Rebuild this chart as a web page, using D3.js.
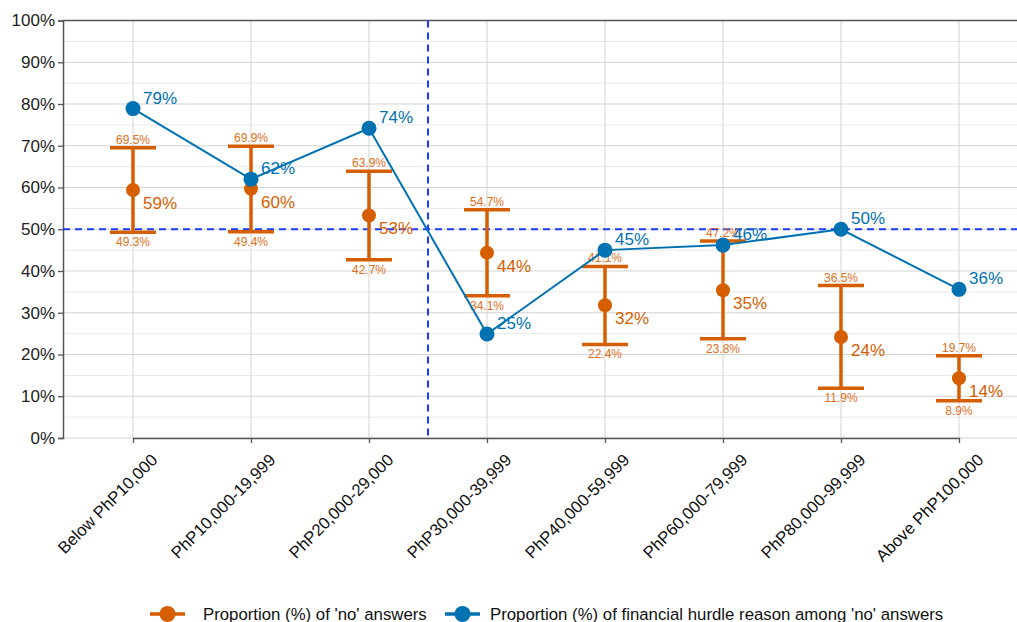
<!DOCTYPE html>
<meta charset="utf-8">
<script src="https://d3js.org/d3.v7.min.js"></script>
<style>
  body { margin: 0; background: #fff; }
  text { font-family: "Liberation Sans", Arial, sans-serif; }
</style>
<body>
<div id="chart"></div>
<script>
const categories = ["Below PhP10,000", "PhP10,000-19,999", "PhP20,000-29,000", "PhP30,000-39,999",
  "PhP40,000-59,999", "PhP60,000-79,999", "PhP80,000-99,999", "Above PhP100,000"];
const noShare = [59.4, 59.7, 53.3, 44.4, 31.8, 35.4, 24.2, 14.3];
const noLower = [49.3, 49.4, 42.7, 34.1, 22.4, 23.8, 11.9, 8.9];
const noUpper = [69.5, 69.9, 63.9, 54.7, 41.1, 47.2, 36.5, 19.7];
const finShare = [78.9, 62.0, 74.2, 24.9, 45.0, 46.2, 50.0, 35.6];
const yTicks = [0, 10, 20, 30, 40, 50, 60, 70, 80, 90, 100];
const legendLabels = ["Proportion (%) of 'no' answers", "Proportion (%) of financial hurdle reason among 'no' answers"];

const orange = "#D55E00", blue = "#0072B2", orangeText = "#E07020";

const W = 1017, H = 622;
const margin = {top: 20.5, right: 0, bottom: 184, left: 63};
const width = W - margin.left - margin.right, height = H - margin.top - margin.bottom;

const svg = d3.select("#chart").append("svg")
    .attr("width", W).attr("height", H);
const g = svg.append("g").attr("transform", `translate(${margin.left},${margin.top})`);

const x = d3.scalePoint().domain(categories).range([70, 70 + 118 * 7]);
const y = d3.scaleLinear().domain([0, 100]).range([height, 0]);

// grid
g.append("g").selectAll("line").data(d3.range(5, 100, 10)).join("line")
    .attr("x1", 0).attr("x2", width).attr("y1", d => y(d)).attr("y2", d => y(d))
    .attr("stroke", "#e8e8e8").attr("stroke-width", 1);
g.append("g").selectAll("line").data(yTicks).join("line")
    .attr("x1", 0).attr("x2", width).attr("y1", d => y(d)).attr("y2", d => y(d))
    .attr("stroke", "#d3d3d3").attr("stroke-width", 1);
g.append("g").selectAll("line").data(categories).join("line")
    .attr("x1", d => x(d)).attr("x2", d => x(d)).attr("y1", 0).attr("y2", height)
    .attr("stroke", "#d3d3d3").attr("stroke-width", 1);

// axes
const yAxis = g.append("g")
    .call(d3.axisLeft(y).tickValues(yTicks).tickFormat(d => d + "%").tickSize(5).tickPadding(3));
yAxis.selectAll("text").attr("font-size", 17).attr("fill", "#222");
const xAxis = g.append("g").attr("transform", `translate(0,${height})`)
    .call(d3.axisBottom(x).tickSize(5).tickSizeOuter(0));
xAxis.selectAll("text")
    .attr("font-size", 16.7).attr("fill", "#111")
    .attr("text-anchor", "end").attr("x", 0).attr("y", 0).attr("dy", 0)
    .attr("transform", "translate(25,23) rotate(-45)");
g.selectAll(".domain").attr("stroke", "#555").attr("stroke-width", 1.5);
g.selectAll(".tick line").attr("stroke", "#555").attr("stroke-width", 1.3);
g.append("line").attr("x1", 0).attr("x2", width).attr("y1", 0).attr("y2", 0)
    .attr("stroke", "#555").attr("stroke-width", 1.5);

// reference lines
g.append("line").attr("x1", 0).attr("x2", width).attr("y1", y(50)).attr("y2", y(50))
    .attr("stroke", "#1a3cff").attr("stroke-width", 2).attr("stroke-dasharray", "7,5");
const mid = (x(categories[2]) + x(categories[3])) / 2;
g.append("line").attr("x1", mid).attr("x2", mid).attr("y1", 0).attr("y2", height)
    .attr("stroke", "#1a3cff").attr("stroke-width", 2).attr("stroke-dasharray", "7,5");

// error bars
const rows = categories.map((c, i) => ({c, v: noShare[i], lo: noLower[i], hi: noUpper[i], f: finShare[i]}));
const eb = g.append("g").selectAll("g").data(rows).join("g");
eb.append("line").attr("x1", d => x(d.c)).attr("x2", d => x(d.c))
    .attr("y1", d => y(d.lo)).attr("y2", d => y(d.hi))
    .attr("stroke", orange).attr("stroke-width", 3.5);
["lo", "hi"].forEach(k => {
  eb.append("line").attr("x1", d => x(d.c) - 23).attr("x2", d => x(d.c) + 23)
      .attr("y1", d => y(d[k])).attr("y2", d => y(d[k]))
      .attr("stroke", orange).attr("stroke-width", 3.5);
});
eb.append("circle").attr("cx", d => x(d.c)).attr("cy", d => y(d.v)).attr("r", 7).attr("fill", orange);
eb.append("text").attr("x", d => x(d.c)).attr("y", d => y(d.hi) - 4)
    .attr("text-anchor", "middle").attr("font-size", 12).attr("fill", orangeText)
    .text(d => d.hi.toFixed(1) + "%");
eb.append("text").attr("x", d => x(d.c)).attr("y", d => y(d.lo) + 14)
    .attr("text-anchor", "middle").attr("font-size", 12).attr("fill", orangeText)
    .text(d => d.lo.toFixed(1) + "%");
eb.append("text").attr("x", d => x(d.c) + 10).attr("y", d => y(d.v) + 19)
    .attr("font-size", 17).attr("fill", orange)
    .text(d => Math.round(d.v) + "%");

// financial hurdle line
g.append("path").datum(rows)
    .attr("d", d3.line().x(d => x(d.c)).y(d => y(d.f)))
    .attr("fill", "none").attr("stroke", blue).attr("stroke-width", 2);
g.append("g").selectAll("circle").data(rows).join("circle")
    .attr("cx", d => x(d.c)).attr("cy", d => y(d.f)).attr("r", 7.5).attr("fill", blue);
g.append("g").selectAll("text").data(rows).join("text")
    .attr("x", d => x(d.c) + 10).attr("y", d => y(d.f) - 5)
    .attr("font-size", 17).attr("fill", blue)
    .text(d => Math.round(d.f) + "%");

// legend
const legend = svg.append("g").attr("transform", "translate(0,614)");
const legendItems = [{x: 150, color: orange, label: legendLabels[0], tx: 203},
                     {x: 445, color: blue, label: legendLabels[1], tx: 490}];
legendItems.forEach(it => {
  legend.append("line").attr("x1", it.x).attr("x2", it.x + 35).attr("y1", 0).attr("y2", 0)
      .attr("stroke", it.color).attr("stroke-width", 3.5);
  legend.append("circle").attr("cx", it.x + 17.5).attr("cy", 0).attr("r", 8).attr("fill", it.color);
  legend.append("text").attr("x", it.tx).attr("y", 6).attr("font-size", 16.8).attr("fill", "#111")
      .text(it.label);
});
</script>
</body>
